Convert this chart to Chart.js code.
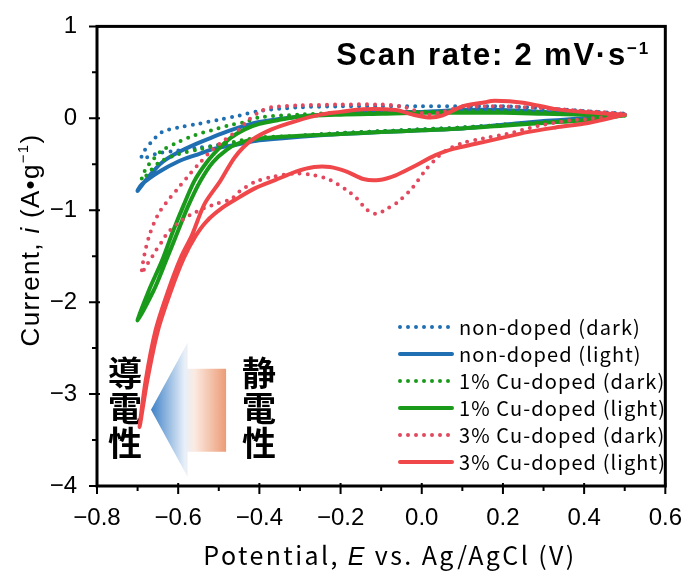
<!DOCTYPE html>
<html>
<head>
<meta charset="utf-8">
<script src="https://cdn.jsdelivr.net/npm/chart.js@4.4.0/dist/chart.umd.min.js"></script>
<style>
  html, body { margin: 0; padding: 0; background: #fff; }
</style>
</head>
<body>
<canvas id="cv" width="692" height="571"></canvas>
<script>
// ── data: CV loops, cathodic sweep (0.5 → -0.7 V) then anodic sweep back ──
const seriesLabels = [
  'non-doped (dark)', 'non-doped (light)',
  '1% Cu-doped (dark)', '1% Cu-doped (light)',
  '3% Cu-doped (dark)', '3% Cu-doped (light)'
];
const seriesColors = ['#1f6fb2', '#1f6fb2', '#1a9a1a', '#1a9a1a', '#e2485e', '#f0474a'];
const seriesDotted = [true, false, true, false, true, false];

const xTicks = [-0.8, -0.6, -0.4, -0.2, 0.0, 0.2, 0.4, 0.6];
const yTicks = [1, 0, -1, -2, -3, -4];
const xMinor = [-0.7, -0.5, -0.3, -0.1, 0.1, 0.3, 0.5];
const yMinor = [0.5, -0.5, -1.5, -2.5, -3.5];

// non-doped (dark)
const E_nd_dark = [0.5, 0.4, 0.3, 0.2, 0.1, 0.0, -0.1, -0.2, -0.3, -0.4, -0.45, -0.5, -0.55, -0.6, -0.65, -0.69,
                   -0.683, -0.66, -0.64, -0.6, -0.55, -0.5, -0.45, -0.4, -0.3, -0.2, -0.1, 0.0, 0.1, 0.2, 0.3, 0.4, 0.5];
const I_nd_dark = [0.04, 0.0, -0.04, -0.07, -0.1, -0.12, -0.14, -0.16, -0.19, -0.23, -0.26, -0.29, -0.32, -0.35, -0.38, -0.44,
                   -0.35, -0.23, -0.15, -0.10, -0.06, -0.015, 0.03, 0.08, 0.12, 0.13, 0.13, 0.13, 0.13, 0.13, 0.11, 0.08, 0.05];
// non-doped (light)
const E_nd_light = [0.5, 0.4, 0.3, 0.2, 0.1, 0.0, -0.1, -0.2, -0.3, -0.4, -0.46, -0.51, -0.557, -0.6, -0.65, -0.69, -0.7,
                    -0.67, -0.64, -0.6, -0.557, -0.518, -0.477, -0.436, -0.4, -0.3, -0.2, -0.1, 0.0, 0.1, 0.2, 0.3, 0.4, 0.5];
const I_nd_light = [0.04, 0.0, -0.03, -0.07, -0.11, -0.13, -0.15, -0.17, -0.2, -0.24, -0.29, -0.33, -0.40, -0.47, -0.59, -0.72, -0.79,
                    -0.62, -0.48, -0.37, -0.28, -0.21, -0.14, -0.08, -0.04, 0.02, 0.05, 0.07, 0.07, 0.09, 0.09, 0.07, 0.05, 0.04];
// 1% Cu-doped (dark)
const E_cu1_dark = [0.5, 0.4, 0.3, 0.2, 0.1, 0.0, -0.1, -0.2, -0.3, -0.4, -0.49, -0.55, -0.6, -0.647, -0.67, -0.69,
                    -0.68, -0.66, -0.64, -0.6, -0.557, -0.518, -0.477, -0.436, -0.4, -0.3, -0.2, -0.1, 0.0, 0.1, 0.2, 0.3, 0.4, 0.5];
const I_cu1_dark = [0.03, -0.01, -0.04, -0.07, -0.1, -0.12, -0.14, -0.16, -0.19, -0.21, -0.28, -0.34, -0.39, -0.48, -0.58, -0.67,
                    -0.55, -0.44, -0.35, -0.26, -0.18, -0.13, -0.08, -0.04, 0.01, 0.04, 0.06, 0.07, 0.07, 0.08, 0.08, 0.07, 0.05, 0.03];
// 1% Cu-doped (light)
const E_cu1_light = [0.5, 0.4, 0.3, 0.2, 0.1, 0.0, -0.1, -0.2, -0.3, -0.4, -0.45, -0.48, -0.515, -0.545, -0.575, -0.6, -0.63, -0.66, -0.7,
                     -0.672, -0.64, -0.612, -0.587, -0.56, -0.53, -0.5, -0.47, -0.436, -0.4, -0.355, -0.3, -0.2, -0.1, 0.0, 0.1, 0.2, 0.3, 0.4, 0.5];
const I_cu1_light = [0.03, -0.02, -0.05, -0.08, -0.11, -0.13, -0.15, -0.17, -0.19, -0.22, -0.27, -0.34, -0.48, -0.68, -0.95, -1.22, -1.55, -1.87, -2.2,
                     -1.87, -1.55, -1.22, -0.95, -0.68, -0.48, -0.33, -0.21, -0.12, -0.06, -0.02, 0.02, 0.04, 0.05, 0.06, 0.06, 0.06, 0.05, 0.04, 0.03];
// 3% Cu-doped (dark)
const E_cu3_dark = [0.5, 0.4, 0.37, 0.29, 0.21, 0.15, 0.1, 0.06, 0.04, 0.01, -0.022, -0.056, -0.088, -0.112, -0.136, -0.16, -0.185, -0.226, -0.265, -0.31,
                    -0.37, -0.41, -0.45, -0.47, -0.506, -0.537, -0.57, -0.6, -0.627, -0.64, -0.654, -0.666, -0.68, -0.69,
                    -0.683, -0.67, -0.65, -0.63, -0.6, -0.574, -0.55, -0.518, -0.484, -0.45, -0.43, -0.4, -0.37, -0.3, -0.2, -0.1,
                    -0.05, -0.02, 0.017, 0.05, 0.1, 0.2, 0.3, 0.4, 0.5];
const I_cu3_dark = [0.04, -0.01, -0.02, -0.08, -0.17, -0.22, -0.27, -0.35, -0.42, -0.56, -0.75, -0.9, -0.99, -1.04, -0.99, -0.87, -0.78, -0.67, -0.62, -0.6,
                    -0.64, -0.69, -0.8, -0.88, -0.93, -0.98, -1.05, -1.14, -1.25, -1.34, -1.43, -1.52, -1.61, -1.69,
                    -1.48, -1.26, -1.05, -0.92, -0.76, -0.62, -0.5, -0.35, -0.23, -0.12, -0.03, 0.07, 0.12, 0.14, 0.15, 0.15,
                    0.13, 0.09, 0.04, 0.07, 0.12, 0.13, 0.11, 0.08, 0.05];
// 3% Cu-doped (light)
const E_cu3_light = [0.5, 0.41, 0.33, 0.26, 0.2, 0.13, 0.08, 0.034, -0.022, -0.064, -0.105, -0.144, -0.185, -0.226, -0.265, -0.31,
                     -0.36, -0.41, -0.45, -0.49, -0.53, -0.557, -0.586, -0.618, -0.65, -0.676, -0.695,
                     -0.68, -0.656, -0.625, -0.594, -0.566, -0.535, -0.496, -0.46, -0.42, -0.37, -0.31, -0.25, -0.2, -0.144, -0.064,
                     -0.022, 0.017, 0.05, 0.1, 0.15, 0.18, 0.25, 0.33, 0.41, 0.5];
const I_cu3_light = [0.04, -0.05, -0.1, -0.15, -0.21, -0.28, -0.33, -0.4, -0.53, -0.62, -0.67, -0.66, -0.58, -0.53, -0.53, -0.58,
                     -0.67, -0.76, -0.86, -0.97, -1.12, -1.28, -1.52, -1.88, -2.31, -2.85, -3.36,
                     -2.85, -2.31, -1.88, -1.52, -1.27, -0.93, -0.68, -0.42, -0.24, -0.12, -0.03, 0.04, 0.07, 0.1, 0.09,
                     0.04, 0.01, 0.03, 0.13, 0.17, 0.19, 0.17, 0.10, 0.065, 0.04];

const seriesE = [E_nd_dark, E_nd_light, E_cu1_dark, E_cu1_light, E_cu3_dark, E_cu3_light];
const seriesI = [I_nd_dark, I_nd_light, I_cu1_dark, I_cu1_light, I_cu3_dark, I_cu3_light];

const SANS = "'Liberation Sans', Arial, sans-serif";
const JP   = "'Noto Sans CJK JP', sans-serif";
const fmt  = (v, d) => (v < -1e-9 ? '\u2212' : '') + Math.abs(v).toFixed(d);

// ── frame, minor ticks, titles, annotation, legend ──
const decorPlugin = {
  id: 'decor',
  beforeDatasetsDraw(chart) {
    const ctx = chart.ctx;
    const x = chart.scales.x, y = chart.scales.y;
    // gradient arrow: 静電性 → 導電性
    const tipX = x.getPixelForValue(-0.667), headX = x.getPixelForValue(-0.577), endX = x.getPixelForValue(-0.482);
    const midY = y.getPixelForValue(-3.17);
    const g = ctx.createLinearGradient(tipX, 0, endX, 0);
    g.addColorStop(0, '#3f82c8');
    g.addColorStop(0.45, '#e8f0f9');
    g.addColorStop(0.58, '#fbeae1');
    g.addColorStop(1, '#ec9c76');
    ctx.save();
    ctx.fillStyle = g;
    ctx.beginPath();
    ctx.moveTo(tipX, midY);
    ctx.lineTo(headX, midY - 67);
    ctx.lineTo(headX, midY - 41);
    ctx.lineTo(endX, midY - 41);
    ctx.lineTo(endX, midY + 42);
    ctx.lineTo(headX, midY + 42);
    ctx.lineTo(headX, midY + 67);
    ctx.closePath();
    ctx.fill();
    // vertical kanji
    ctx.fillStyle = '#000';
    ctx.font = 'bold 34px ' + JP;
    ctx.textAlign = 'center';
    ctx.textBaseline = 'middle';
    const rows = [373, 408, 443];
    '導電性'.split('').forEach((ch, k) => ctx.fillText(ch, 125, rows[k]));
    '静電性'.split('').forEach((ch, k) => ctx.fillText(ch, 259, rows[k]));
    ctx.restore();
  },
  afterDraw(chart) {
    const ctx = chart.ctx;
    const a = chart.chartArea;
    const x = chart.scales.x, y = chart.scales.y;
    ctx.save();
    ctx.strokeStyle = '#000';
    ctx.lineWidth = 3;
    ctx.strokeRect(a.left, a.top, a.right - a.left, a.bottom - a.top);
    // ticks
    ctx.lineWidth = 2;
    ctx.beginPath();
    xTicks.forEach(v => { const p = x.getPixelForValue(v); ctx.moveTo(p, a.bottom - 3); ctx.lineTo(p, a.bottom + 8); });
    xMinor.forEach(v => { const p = x.getPixelForValue(v); ctx.moveTo(p, a.bottom); ctx.lineTo(p, a.bottom + 5); });
    yTicks.forEach(v => { const p = y.getPixelForValue(v); ctx.moveTo(a.left - 8, p); ctx.lineTo(a.left + 3, p); });
    yMinor.forEach(v => { const p = y.getPixelForValue(v); ctx.moveTo(a.left - 5, p); ctx.lineTo(a.left, p); });
    ctx.stroke();

    // scan rate
    ctx.fillStyle = '#000';
    ctx.textBaseline = 'alphabetic';
    ctx.textAlign = 'left';
    ctx.letterSpacing = '1.8px';
    const main = 'Scan rate: 2 mV\u00b7s';
    ctx.font = 'bold 17px ' + SANS;
    const supW = ctx.measureText('\u22121').width;
    ctx.font = 'bold 31px ' + SANS;
    const mainW = ctx.measureText(main).width;
    const sx = 650 - supW - mainW;
    ctx.fillText(main, sx, 65);
    ctx.font = 'bold 17px ' + SANS;
    ctx.fillText('\u22121', sx + mainW, 54);

    // x title
    ctx.letterSpacing = '2.4px';
    const xParts = [['Potential, ', '25px ' + JP], ['E', 'italic 25px ' + SANS], [' vs. Ag/AgCl (V)', '25px ' + JP]];
    let w = 0;
    xParts.forEach(p => { ctx.font = p[1]; w += ctx.measureText(p[0]).width; });
    let cx = 390 - w / 2;
    xParts.forEach(p => { ctx.font = p[1]; ctx.fillText(p[0], cx, 565); cx += ctx.measureText(p[0]).width; });

    // y title (rotated)
    ctx.letterSpacing = '1.3px';
    ctx.translate(39, 240);
    ctx.rotate(-Math.PI / 2);
    const yParts = [['Current, ', '26px ' + SANS, 0], ['i', 'italic 26px ' + SANS, 0], [' (A\u2022g', '26px ' + SANS, 0],
                    ['\u22121', '15px ' + SANS, -11], [')', '26px ' + SANS, 0]];
    w = 0;
    yParts.forEach(p => { ctx.font = p[1]; w += ctx.measureText(p[0]).width; });
    cx = -w / 2;
    yParts.forEach(p => { ctx.font = p[1]; ctx.fillText(p[0], cx, p[2]); cx += ctx.measureText(p[0]).width; });
    ctx.restore();

    // legend
    ctx.save();
    ctx.font = '20px ' + JP;
    ctx.letterSpacing = '1.1px';
    ctx.textBaseline = 'middle';
    ctx.fillStyle = '#000';
    chart.data.datasets.forEach((ds, k) => {
      const ly = 327 + k * 27;
      ctx.strokeStyle = ds.borderColor;
      ctx.lineWidth = ds.borderWidth;
      ctx.lineCap = 'round';
      ctx.setLineDash(ds.borderDash || []);
      ctx.beginPath();
      ctx.moveTo(400, ly);
      ctx.lineTo(452, ly);
      ctx.stroke();
      ctx.fillText(ds.label, 459, ly);
    });
    ctx.restore();
  }
};

const datasets = seriesLabels.map((label, k) => ({
  label,
  data: seriesE[k].map((e, n) => ({ x: e, y: seriesI[k][n] })),
  showLine: true,
  borderColor: seriesColors[k],
  backgroundColor: seriesColors[k],
  borderWidth: 4,
  borderDash: seriesDotted[k] ? [0, 8] : [],
  borderCapStyle: 'round',
  borderJoinStyle: 'round',
  pointRadius: 0,
  tension: 0.3,
  order: 6 - k
}));

new Chart(document.getElementById('cv'), {
  type: 'scatter',
  data: { datasets },
  options: {
    responsive: false,
    animation: false,
    layout: { padding: { top: 23, right: 19, left: 0, bottom: 0 } },
    plugins: { legend: { display: false }, tooltip: { enabled: false } },
    scales: {
      x: {
        type: 'linear', min: -0.8, max: 0.6,
        afterBuildTicks: s => { s.ticks = xTicks.map(v => ({ value: v })); },
        afterFit: s => { s.height = 85; },
        grid: { display: false },
        border: { display: false },
        ticks: { color: '#000', padding: 10, font: { family: SANS, size: 24 },
                 callback: v => fmt(v, 1) }
      },
      y: {
        type: 'linear', min: -4, max: 1,
        afterBuildTicks: s => { s.ticks = yTicks.map(v => ({ value: v })); },
        afterFit: s => { s.width = 97; },
        grid: { display: false },
        border: { display: false },
        ticks: { color: '#000', padding: 12, font: { family: SANS, size: 24 },
                 callback: v => fmt(v, 0) }
      }
    }
  },
  plugins: [decorPlugin]
});
</script>
</body>
</html>
